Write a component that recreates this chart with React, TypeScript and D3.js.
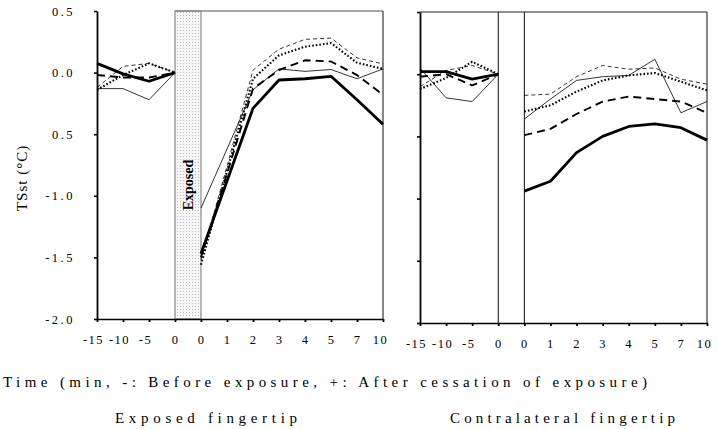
import React, { useEffect, useRef } from 'react';
import { select, scaleLinear, axisLeft, axisBottom, line } from 'd3';

// x categories (minutes), 4 before exposure + 8 after cessation
const xLabels = ['-15', '-10', '-5', '0', '0', '1', '2', '3', '4', '5', '7', '10'];
const yTicks = [0.5, 0, -0.5, -1, -1.5, -2];
const yTickLabels = ['0.5', '0.0', '0.5', '-1.0', '-1.5', '-2.0'];

// exposed fingertip (first 4 = before, last 8 = after)
const expThick = [0.075, -0.01, -0.07, 0, -1.47, -0.88, -0.29, -0.06, -0.05, -0.03, -0.22, -0.42];
const expThin = [-0.13, -0.13, -0.22, 0, -1.1, -0.62, -0.14, 0.03, 0.01, 0.025, -0.05, 0.03];
const expLongDash = [-0.02, -0.04, -0.04, 0, -1.5, -0.82, -0.13, 0.02, 0.1, 0.09, -0.02, -0.18];
const expDotted = [-0.14, -0.02, 0.075, 0, -1.56, -0.8, -0.05, 0.14, 0.21, 0.24, 0.08, 0.03];
const expThinDash = [-0.12, 0.05, 0.075, 0, -1.52, -0.76, 0.02, 0.19, 0.27, 0.28, 0.12, 0.07];

// contralateral fingertip
const conThick = [0.02, 0.02, -0.04, 0, -0.94, -0.86, -0.63, -0.5, -0.42, -0.4, -0.43, -0.53];
const conThin = [0.05, -0.19, -0.22, 0, -0.36, -0.2, -0.05, -0.02, -0.01, 0.12, -0.31, -0.22];
const conLongDash = [-0.02, 0.0, -0.09, 0, -0.49, -0.44, -0.32, -0.22, -0.18, -0.2, -0.22, -0.31];
const conDotted = [-0.12, -0.03, 0.1, 0, -0.3, -0.25, -0.14, -0.05, -0.01, 0.01, -0.06, -0.13];
const conThinDash = [-0.1, 0.03, 0.07, 0, -0.17, -0.16, -0.02, 0.07, 0.04, 0.05, -0.04, -0.08];

const styles = [
  { width: 2.8, dash: null },
  { width: 0.8, dash: null },
  { width: 1.9, dash: '8,5' },
  { width: 2.1, dash: '1.6,2' },
  { width: 0.8, dash: '4,3' },
];

const serif = '"Liberation Serif", "Times New Roman", serif';

const App = () => {
  const svgRef = useRef(null);

  useEffect(() => {
    const svg = select(svgRef.current);
    svg.selectAll('*').remove();

    const defs = svg.append('defs');
    const pat = defs
      .append('pattern')
      .attr('id', 'dots')
      .attr('width', 3)
      .attr('height', 3)
      .attr('patternUnits', 'userSpaceOnUse');
    pat.append('rect').attr('width', 3).attr('height', 3).attr('fill', '#f6f6f6');
    pat.append('rect').attr('width', 1).attr('height', 1).attr('fill', '#bdbdbd');

    const drawPanel = (
      left: number,
      right: number,
      top: number,
      bottom: number,
      series: number[][],
      shaded: boolean
    ) => {
      const x = scaleLinear().domain([0, 11]).range([left, right]);
      const y = scaleLinear().domain([0.5, -2]).range([top, bottom]);
      const g = svg.append('g');

      // exposure gap
      if (shaded) {
        g.append('rect')
          .attr('x', x(3))
          .attr('y', top)
          .attr('width', x(4) - x(3))
          .attr('height', bottom - top)
          .attr('fill', 'url(#dots)')
          .attr('stroke', '#8a8a8a')
          .attr('stroke-width', 1.2);
        g.append('line')
          .attr('x1', x(3))
          .attr('x2', right)
          .attr('y1', top)
          .attr('y2', top)
          .attr('stroke', '#8a8a8a')
          .attr('stroke-width', 1.6);
        g.append('text')
          .attr('transform', `translate(${(x(3) + x(4)) / 2 + 5},${185}) rotate(-90)`)
          .attr('text-anchor', 'middle')
          .attr('font-family', serif)
          .attr('font-weight', 'bold')
          .attr('font-size', 14)
          .text('Exposed');
      } else {
        g.append('line')
          .attr('x1', left)
          .attr('x2', right)
          .attr('y1', top)
          .attr('y2', top)
          .attr('stroke', '#222')
          .attr('stroke-width', 1);
        [3, 4].forEach((i) => {
          g.append('line')
            .attr('x1', x(i))
            .attr('x2', x(i))
            .attr('y1', top)
            .attr('y2', bottom)
            .attr('stroke', '#222')
            .attr('stroke-width', 1.1);
        });
      }

      // right border
      g.append('line')
        .attr('x1', right)
        .attr('x2', right)
        .attr('y1', top)
        .attr('y2', bottom)
        .attr('stroke', '#222')
        .attr('stroke-width', 1.1);

      // data lines, broken at the exposure
      const path = line<number>()
        .x((d, i) => x(i))
        .y((d) => y(d));
      const pathPost = line<number>()
        .x((d, i) => x(i + 4))
        .y((d) => y(d));
      series.forEach((s, k) => {
        const st = styles[k];
        [path(s.slice(0, 4)), pathPost(s.slice(4))].forEach((dd) => {
          g.append('path')
            .attr('d', dd)
            .attr('fill', 'none')
            .attr('stroke', '#000')
            .attr('stroke-width', st.width)
            .attr('stroke-dasharray', st.dash)
            .attr('stroke-linejoin', 'round');
        });
      });

      // y axis
      const ya = g
        .append('g')
        .attr('transform', `translate(${left},0)`)
        .call(
          axisLeft(y)
            .tickValues(yTicks)
            .tickSize(3)
            .tickSizeOuter(0)
            .tickPadding(19)
            .tickFormat((d, i) => (shaded ? yTickLabels[i] : ''))
        );
      ya.select('.domain').attr('stroke', '#000').attr('stroke-width', 1.8);
      ya.selectAll('.tick line').attr('stroke-width', 1.6);
      ya.selectAll('text')
        .attr('font-family', serif)
        .attr('font-size', 12.5)
        .attr('letter-spacing', 2.5)
        .attr('fill', '#000');

      // x axis
      const xa = g
        .append('g')
        .attr('transform', `translate(0,${bottom})`)
        .call(
          axisBottom(x)
            .tickValues(xLabels.map((d, i) => i))
            .tickSize(3)
            .tickSizeOuter(0)
            .tickPadding(13)
            .tickFormat((d, i) => xLabels[i])
        );
      xa.select('.domain').attr('stroke', '#000').attr('stroke-width', 1.6);
      xa.selectAll('.tick line').attr('stroke-width', 1.8);
      xa.selectAll('text')
        .attr('font-family', serif)
        .attr('font-size', 12.5)
        .attr('letter-spacing', 1.5)
        .attr('fill', '#000')
        .attr('dx', (d, i) => (xLabels[i].startsWith('-') ? -4 : i === 11 ? -3 : 0));
    };

    drawPanel(97, 383, 11, 319, [expThick, expThin, expLongDash, expDotted, expThinDash], true);
    drawPanel(420, 707, 12, 323, [conThick, conThin, conLongDash, conDotted, conThinDash], false);

    // y label
    svg
      .append('text')
      .attr('transform', 'translate(27,178) rotate(-90)')
      .attr('text-anchor', 'middle')
      .attr('font-family', serif)
      .attr('font-size', 15)
      .attr('letter-spacing', 1)
      .text('TSst  (°C)');

    svg
      .append('text')
      .attr('x', 3)
      .attr('y', 387)
      .attr('font-family', serif)
      .attr('font-size', 15)
      .attr('textLength', 644)
      .attr('lengthAdjust', 'spacing')
      .text('Time (min, -: Before exposure, +: After cessation of exposure)');

    svg
      .append('text')
      .attr('x', 115)
      .attr('y', 423)
      .attr('font-family', serif)
      .attr('font-size', 15)
      .attr('textLength', 182)
      .attr('lengthAdjust', 'spacing')
      .text('Exposed fingertip');

    svg
      .append('text')
      .attr('x', 450)
      .attr('y', 423)
      .attr('font-family', serif)
      .attr('font-size', 15)
      .attr('textLength', 225)
      .attr('lengthAdjust', 'spacing')
      .text('Contralateral fingertip');
  }, []);

  return (
    <svg
      ref={svgRef}
      width={718}
      height={429}
      style={{ position: 'absolute', left: 0, top: 0, background: '#fff' }}
    ></svg>
  );
};

export default App;
